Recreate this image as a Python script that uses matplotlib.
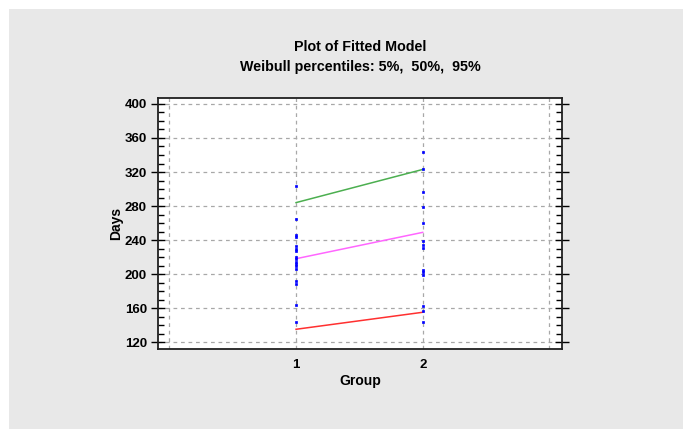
import matplotlib
matplotlib.use("Agg")
import matplotlib.pyplot as plt
from matplotlib.patches import Rectangle
from matplotlib.ticker import MultipleLocator, FixedLocator

plt.rcParams['font.family'] = ['Liberation Sans', 'DejaVu Sans']

# observed days per group
group1_days = [304, 265, 246, 243, 233, 230, 227, 220, 218, 214, 212, 209, 206,
               192, 188, 164, 144]
group2_days = [343, 323, 296, 279, 260, 239, 234, 231, 205, 202, 199, 162, 156, 143]

# fitted Weibull percentiles at each group
groups = [1, 2]
p05 = [135, 155]
p50 = [218, 249]
p95 = [284, 323]

fig = plt.figure(figsize=(6.83, 4.29), dpi=100, facecolor='white')
fig.patches.append(Rectangle((9 / 683, 0), 1, 1 - 9 / 429, transform=fig.transFigure,
                             facecolor='#e8e8e8', edgecolor='none', zorder=-1))

ax = fig.add_axes([158 / 683, 1 - 349 / 429, 404 / 683, 251.3 / 429])
ax.set_facecolor('white')

ax.plot(groups, p95, color='#4caf50', lw=1.1, zorder=3)
ax.plot(groups, p50, color='#ff66ff', lw=1.1, zorder=3)
ax.plot(groups, p05, color='#ff3030', lw=1.1, zorder=3)

ax.plot([1] * len(group1_days), group1_days, 's', color='#0000ff', ms=2.0, mew=0.5,
        mec='#0000ff', zorder=4)
ax.plot([2] * len(group2_days), group2_days, 's', color='#0000ff', ms=2.0, mew=0.5,
        mec='#0000ff', zorder=4)

ax.set_xlim(-0.09, 3.1)
ax.set_ylim(111.8, 407.4)

ax.xaxis.set_major_locator(FixedLocator([1, 2]))
ax.yaxis.set_major_locator(MultipleLocator(40))
ax.yaxis.set_minor_locator(MultipleLocator(10))

# dashed grid including the two outer verticals
for gx in [0, 1, 2, 3]:
    ax.axvline(gx, color='#a8a8a8', lw=0.9, ls=(0, (3, 3)), zorder=1)
for gy in range(120, 401, 40):
    ax.axhline(gy, color='#a8a8a8', lw=0.9, ls=(0, (3, 3)), zorder=1)

ax.tick_params(axis='x', length=0, labelsize=9.5, pad=7)
for lab in ax.get_xticklabels():
    lab.set_fontweight('bold')
ax.tick_params(axis='y', which='major', direction='inout', length=10, width=1,
               right=True, labelsize=9.5, pad=3)
ax.tick_params(axis='y', which='minor', direction='in', length=4, width=1, right=True)
for lab in ax.get_yticklabels():
    lab.set_fontweight('bold')

for sp in ax.spines.values():
    sp.set_linewidth(1.3)
    sp.set_color('#202020')

ax.set_xlabel('Group', fontsize=10, fontweight='bold', labelpad=2)
ax.set_ylabel('Days', fontsize=10, fontweight='bold', labelpad=1)

fig.text(360 / 683, 1 - 47 / 429, 'Plot of Fitted Model', ha='center', va='center',
         fontsize=10.3, fontweight='bold')
fig.text(360 / 683, 1 - 67 / 429, 'Weibull percentiles: 5%,  50%,  95%', ha='center',
         va='center', fontsize=10.3, fontweight='bold')

fig.savefig('out.png', dpi=100, facecolor=fig.get_facecolor())
